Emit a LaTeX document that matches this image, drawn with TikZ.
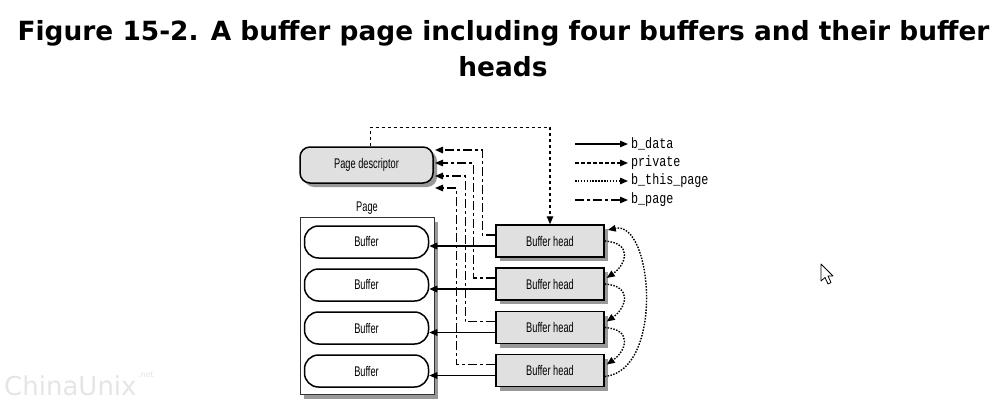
\documentclass[tikz,border=0pt]{standalone}
\usepackage{fontspec}
\usetikzlibrary{arrows.meta,shadows,calc}
\newfontfamily\titlefont{DejaVu Sans}
\newfontfamily\narrowfont[FakeStretch=0.66]{Liberation Sans}
\newfontfamily\legfont[FakeStretch=0.78]{Liberation Mono}
\newfontfamily\wmfont{DejaVu Sans}
\begin{document}
\begin{tikzpicture}[x=1pt,y=-1pt,
  tip/.style={-{Triangle[length=8pt,width=6.5pt]}},
  conn/.style={line width=1.4pt,black},
  bdata/.style={conn,tip},
  priv/.style={conn,tip,dash pattern=on 3.5pt off 2.5pt},
  thispage/.style={conn,tip,dash pattern=on 1.5pt off 1.4pt},
  bpage/.style={conn,tip,dash pattern=on 9pt off 3pt on 3pt off 3pt},
  shade/.style={drop shadow={shadow xshift=4pt,shadow yshift=-4pt,fill=black,opacity=0.4}},
  lbl/.style={font=\narrowfont\fontsize{14}{16}\selectfont,text=black},
  pdstyle/.style={shade,draw=black,line width=1.5pt,fill=black!12,rounded corners=10pt,
    minimum width=133pt,minimum height=36pt,inner sep=0pt,lbl},
  pagestyle/.style={shade,draw=black!80,line width=1pt,fill=white,
    minimum width=134pt,minimum height=177pt,inner sep=0pt},
  bufstyle/.style={draw=black,line width=1.5pt,fill=white,rounded corners=14pt,
    minimum width=124pt,minimum height=32pt,inner sep=0pt,lbl},
  headstyle/.style={shade,draw=black,line width=1.5pt,fill=black!12,
    minimum width=108pt,minimum height=32pt,inner sep=0pt,lbl},
  legtxt/.style={font=\legfont\fontsize{15}{17}\selectfont,anchor=west,inner sep=0pt}
]
\useasboundingbox (0,0) rectangle (1006,404);
% title
\node[font=\titlefont\bfseries\fontsize{26.4}{32}\selectfont] (t1) at (503.5,33) {Figure 15-2. A buffer page including four buffers and their buffer};
\node[font=\titlefont\bfseries\fontsize{26.4}{32}\selectfont] (t2) at (503,67) {heads};
% watermark
\node[font=\wmfont\fontsize{26}{28}\selectfont,text=black!10,anchor=west,inner sep=0pt] (wm) at (4,386) {ChinaUnix};
\node[font=\wmfont\fontsize{8}{9}\selectfont,text=black!10,anchor=west,inner sep=0pt] (wmn) at (138,375) {.net};
% page descriptor
\node[pdstyle] (pd) at (366.5,165) {Page descriptor};
% page
\node[lbl,inner sep=0pt] (pglbl) at (367,208) {Page};
\node[pagestyle] (pg) at (367,306) {};
\foreach \i/\y in {1/242,2/285,3/328,4/371}{
  \node[bufstyle] (b\i) at (366.5,\y) {Buffer};
}
\node[headstyle] (h1) at (550,241) {Buffer head};
\node[headstyle] (h2) at (550,284) {Buffer head};
\node[headstyle] (h3) at (550,327.5) {Buffer head};
\node[headstyle] (h4) at (550,370.5) {Buffer head};
% b_data
\foreach \i in {1,...,4}{
  \draw[bdata] ([yshift=-5pt]h\i.west) -- ([yshift=-5pt]h\i.west -| b\i.east);
}
% b_page
\coordinate (pa1) at (435,150);
\coordinate (pa2) at (435,163);
\coordinate (pa3) at (435,176);
\coordinate (pa4) at (435,188);
\draw[bpage] ([yshift=6pt]h1.west) -- ++(-13,0) |- (pa1);
\draw[bpage] ([yshift=6pt]h2.west) -- ++(-22,0) |- (pa2);
\draw[bpage] ([yshift=6pt]h3.west) -- ++(-30,0) |- (pa3);
\draw[bpage] ([yshift=6pt]h4.west) -- ++(-39,0) |- (pa4);
% private
\draw[priv] ([xshift=4pt]pd.north) -- ++(0,-19) -| (h1.north);
% b_this_page
\draw[thispage] (h1.east) .. controls +(28,2) and +(20,-14) .. ([xshift=2pt,yshift=6pt]h2.east);
\draw[thispage] (h2.east) .. controls +(28,2) and +(20,-14) .. ([xshift=2pt,yshift=6pt]h3.east);
\draw[thispage] (h3.east) .. controls +(28,2) and +(20,-14) .. ([xshift=2pt,yshift=6pt]h4.east);
\draw[thispage] ([yshift=-6pt]h4.east) .. controls +(60,-6) and +(45,-10) .. ([xshift=3pt,yshift=11pt]h1.east);
% legend
\node[legtxt] (l1) at (631,144) {b\_data};
\node[legtxt] (l2) at (631,163) {private};
\node[legtxt] (l3) at (631,181) {b\_this\_page};
\node[legtxt] (l4) at (631,200) {b\_page};
\coordinate (la1) at (575,144);
\coordinate (la2) at (575,163);
\coordinate (la3) at (575,181);
\coordinate (la4) at (575,200);
\draw[bdata] (la1) -- ([xshift=-3pt]l1.west);
\draw[priv] (la2) -- ([xshift=-3pt]l2.west);
\draw[thispage] (la3) -- ([xshift=-3pt]l3.west);
\draw[bpage] (la4) -- ([xshift=-3pt]l4.west);
% cursor
\draw[black,line width=0.8pt,fill=white,line join=round] (821,264) -- (821,281) -- (825,277.5) -- (828,284) -- (831,282.5) -- (828,276) -- (833,276) -- cycle;
\end{tikzpicture}
\end{document}
